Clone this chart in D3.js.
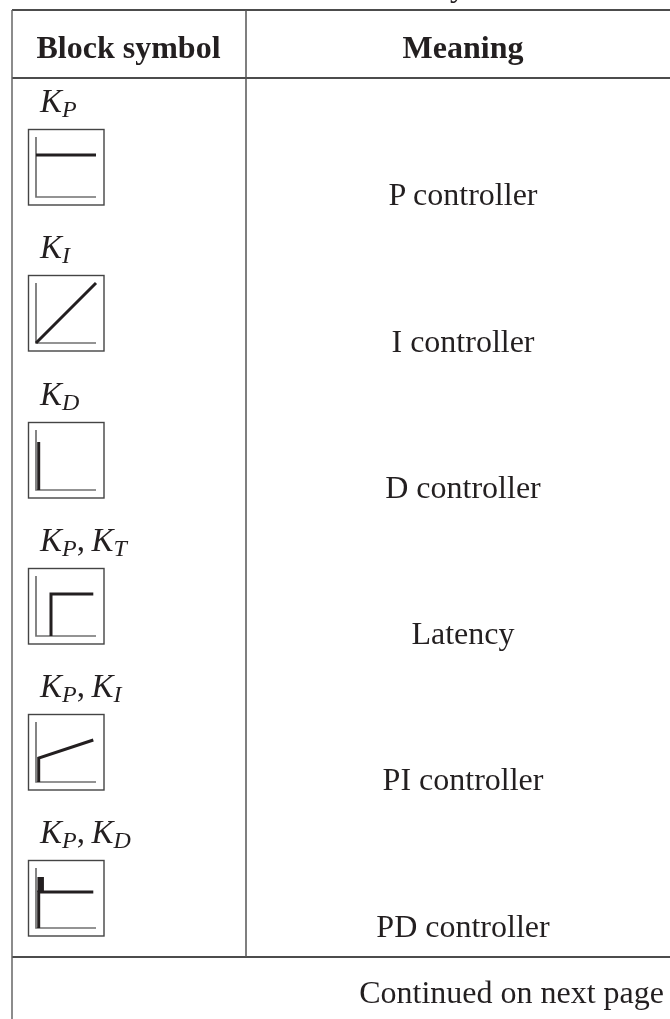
<!DOCTYPE html>
<html>
<head>
<meta charset="utf-8">
<script src="https://cdn.jsdelivr.net/npm/d3@7"></script>
<style>
  html, body { margin: 0; padding: 0; background: #fff; }
  text { font-family: "Liberation Serif", serif; fill: #231f20; }
  /* the reference is a slightly soft scan */
  svg { filter: blur(0.35px); }
</style>
</head>
<body>
<div id="chart"></div>
<script>
// table content
const meanings = ["P controller", "I controller", "D controller", "Latency", "PI controller", "PD controller"];
const symbolNames = [
  [["K", "P"]],
  [["K", "I"]],
  [["K", "D"]],
  [["K", "P"], ["K", "T"]],
  [["K", "P"], ["K", "I"]],
  [["K", "P"], ["K", "D"]]
];

// step responses (x and y run 0..1 along its axes)
const curveP = [[0, 0.7], [1, 0.7]];
const curveI = [[0, 0], [1, 1]];
const curveD = [[0.045, 0], [0.045, 0.8]];
const curveLatency = [[0.25, 0], [0.25, 0.7], [0.955, 0.7]];
const curvePI = [[0.045, 0], [0.045, 0.4], [0.955, 0.7]];
const curvePD = [[0.045, 0], [0.045, 0.6], [0.955, 0.6]];
const curves = [curveP, curveI, curveD, curveLatency, curvePI, curvePD];
// the D part of the PD block is a thicker spike on top of the curve
const spikePD = [[0.078, 0.6], [0.078, 0.85]];

const footer = "Continued on next page";

const width = 670, height = 1019;
const leftX = 12, midX = 246, topY = 10, headY = 78, footY = 957;

// top of each symbol box
const boxTop = d3.scaleOrdinal().domain(meanings).range([129, 275, 422, 568, 714, 860]);
const boxSize = 75.5;
const meaningY = [205, 352, 498, 644, 790, 937];

const x = d3.scaleLinear().domain([0, 1]).range([36, 96]);
const y = d3.scaleLinear().domain([0, 1]).range([68, 8]);
const line = d3.line().x(d => x(d[0])).y(d => y(d[1]));

const svg = d3.select("#chart")
  .append("svg")
  .attr("width", width)
  .attr("height", height)
  .style("display", "block");

// table rules
const rules = svg.append("g");
function rule(x1, y1, x2, y2, color, w) {
  rules.append("line")
    .attr("x1", x1).attr("y1", y1).attr("x2", x2).attr("y2", y2)
    .attr("stroke", color).attr("stroke-width", w);
}
rule(leftX, topY, width, topY, "#111", 1.3);
rule(leftX, headY, width, headY, "#111", 1.3);
rule(leftX, footY, width, footY, "#111", 1.3);
rule(leftX, topY, leftX, height, "#666", 1.5);
rule(midX, topY, midX, footY, "#555", 1.5);

// tail of the page title, cut off by the top of the picture
svg.append("text").attr("x", 450).attr("y", -4)
  .attr("font-size", 32)
  .text("y");

// header
svg.append("text").attr("x", 128.5).attr("y", 58)
  .attr("text-anchor", "middle").attr("font-size", 32).attr("font-weight", "bold")
  .text("Block symbol");
svg.append("text").attr("x", 463).attr("y", 58)
  .attr("text-anchor", "middle").attr("font-size", 32).attr("font-weight", "bold")
  .text("Meaning");

// one group per row
const rows = svg.selectAll("g.row")
  .data(meanings)
  .join("g")
  .attr("class", "row");

rows.append("text")
  .attr("x", 463)
  .attr("y", (d, i) => meaningY[i])
  .attr("text-anchor", "middle")
  .attr("font-size", 32)
  .text(d => d);

// K labels with subscripts
rows.append("text")
  .attr("x", 40)
  .attr("y", d => boxTop(d) - 17)
  .attr("font-size", 33)
  .attr("font-style", "italic")
  .each(function (d, i) {
    const label = d3.select(this);
    symbolNames[i].forEach((part, j) => {
      if (j > 0) label.append("tspan").attr("dy", -5).attr("font-style", "normal").text(",\u2009");
      label.append("tspan").attr("dy", j > 0 ? 0 : null).text(part[0]);
      label.append("tspan").attr("dy", 5).attr("font-size", 24).text(part[1]);
    });
  });

// small plots
const plots = rows.append("g")
  .attr("transform", d => `translate(0, ${boxTop(d)})`);

plots.append("rect")
  .attr("x", 28.5).attr("y", 0.5)
  .attr("width", boxSize).attr("height", boxSize)
  .attr("fill", "none").attr("stroke", "#444").attr("stroke-width", 1.4);

plots.append("path")
  .attr("d", line([[0, 1], [0, 0], [1, 0]]))
  .attr("fill", "none").attr("stroke", "#707070").attr("stroke-width", 1.7);

plots.append("path")
  .attr("d", (d, i) => line(curves[i]))
  .attr("fill", "none").attr("stroke", "#231f20").attr("stroke-width", 3)
  .attr("stroke-linejoin", "miter");

plots.filter((d, i) => i == 5).append("path")
  .attr("d", line(spikePD))
  .attr("fill", "none").attr("stroke", "#231f20").attr("stroke-width", 6.5);

// footer
svg.append("text").attr("x", 664).attr("y", 1003)
  .attr("text-anchor", "end").attr("font-size", 32)
  .text(footer);
</script>
</body>
</html>
